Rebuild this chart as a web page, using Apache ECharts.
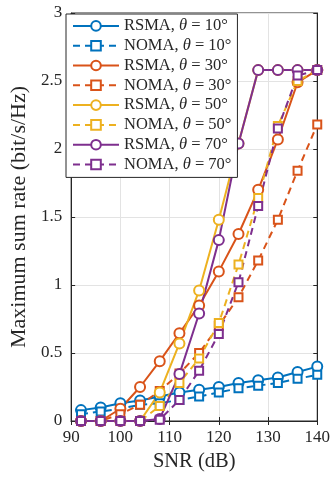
<!DOCTYPE html>
<html>
<head>
<meta charset="utf-8">
<script src="https://cdn.jsdelivr.net/npm/echarts@6/dist/echarts.min.js"></script>
<style>
html,body{margin:0;padding:0;background:#fff;}
#c{width:333px;height:480px;}
</style>
</head>
<body>
<div id="c"></div>
<script>
const snr = [92, 96, 100, 104, 108, 112, 116, 120, 124, 128, 132, 136, 140];
const rsma10 = [0.08, 0.10, 0.13, 0.15, 0.18, 0.21, 0.23, 0.25, 0.28, 0.30, 0.32, 0.36, 0.40];
const noma10 = [0.05, 0.07, 0.09, 0.12, 0.13, 0.155, 0.18, 0.21, 0.24, 0.26, 0.28, 0.31, 0.34];
const rsma30 = [0, 0, 0.09, 0.25, 0.44, 0.645, 0.85, 1.10, 1.375, 1.70, 2.07, 2.49, 2.58];
const noma30 = [0, 0, 0.05, 0.12, 0.22, 0.35, 0.50, 0.70, 0.91, 1.18, 1.48, 1.84, 2.18];
const rsma50 = [0, 0, 0, 0, 0.21, 0.57, 0.96, 1.48, 2.04, 2.58, 2.58, 2.58, 2.58];
const noma50 = [0, 0, 0, 0, 0.11, 0.28, 0.46, 0.72, 1.15, 1.64, 2.17, 2.50, 2.58];
const rsma70 = [0, 0, 0, 0, 0.015, 0.345, 0.79, 1.33, 2.04, 2.58, 2.58, 2.58, 2.58];
const noma70 = [0, 0, 0, 0, 0.01, 0.155, 0.37, 0.64, 1.02, 1.58, 2.15, 2.54, 2.58];
const seriesNames = ['RSMA, θ = 10°', 'NOMA, θ = 10°', 'RSMA, θ = 30°', 'NOMA, θ = 30°',
                     'RSMA, θ = 50°', 'NOMA, θ = 50°', 'RSMA, θ = 70°', 'NOMA, θ = 70°'];
const seriesValues = [rsma10, noma10, rsma30, noma30, rsma50, noma50, rsma70, noma70];
const xTicks = [90, 100, 110, 120, 130, 140];
const yTicks = [0, 0.5, 1, 1.5, 2, 2.5, 3];

const colors = ['#0072BD', '#0072BD', '#D95319', '#D95319', '#EDB120', '#EDB120', '#7E2F8E', '#7E2F8E'];
const FONT = "'Liberation Serif', 'DejaVu Serif', serif";
const TXT = '#262626';

const series = seriesNames.map((name, i) => {
  const dashed = name.startsWith('NOMA');
  return {
    name: name,
    type: 'line',
    data: snr.map((x, k) => [x, seriesValues[i][k]]),
    symbol: dashed ? 'emptyRect' : 'emptyCircle',
    symbolSize: dashed ? 8 : 10,
    showAllSymbol: true,
    clip: false,
    color: colors[i],
    lineStyle: { width: 2, color: colors[i], type: dashed ? [7, 5] : 'solid' },
    itemStyle: { color: colors[i], borderColor: colors[i], borderWidth: 1.8 },
    emphasis: { disabled: true },
    animation: false
  };
});

const chart = echarts.init(document.getElementById('c'), null, { renderer: 'canvas' });
chart.setOption({
  backgroundColor: '#fff',
  animation: false,
  textStyle: { fontFamily: FONT },
  grid: { left: 65, right: 15, top: 13, bottom: 59, show: true, borderColor: TXT, borderWidth: 1, backgroundColor: '#fff' },
  legend: {
    orient: 'vertical',
    left: 66, top: 14,
    padding: [2, 6, 3, 6],
    itemGap: 0,
    itemWidth: 46,
    itemHeight: 12,
    backgroundColor: '#fff',
    borderColor: TXT,
    borderWidth: 1,
    borderRadius: 0,
    data: seriesNames,
    formatter: function (name) {
      const parts = name.split('θ');
      return '{n|' + parts[0] + '}{i|θ}{n|' + parts[1] + '}';
    },
    textStyle: {
      fontFamily: FONT, fontSize: 16.5, color: TXT, lineHeight: 19.8,
      rich: {
        n: { fontFamily: FONT, fontSize: 16.5, color: TXT, lineHeight: 19.8 },
        i: { fontFamily: FONT, fontSize: 16.5, color: TXT, fontStyle: 'italic', lineHeight: 19.8 }
      }
    }
  },
  xAxis: [{
    type: 'value', min: xTicks[0], max: xTicks[xTicks.length - 1], interval: 10,
    name: 'SNR (dB)', nameLocation: 'middle', nameGap: 29,
    nameTextStyle: { fontFamily: FONT, fontSize: 20.5, color: TXT },
    axisLine: { show: true, lineStyle: { color: TXT, width: 1 } },
    axisTick: { show: true, inside: true, length: 4, lineStyle: { color: TXT } },
    axisLabel: { fontFamily: FONT, fontSize: 17, color: TXT, margin: 8 },
    splitLine: { show: true, lineStyle: { color: '#e3e3e3', width: 1 } }
  }, {
    type: 'value', position: 'top', min: xTicks[0], max: xTicks[xTicks.length - 1], interval: 10,
    axisLine: { show: true, lineStyle: { color: TXT } },
    axisTick: { show: true, inside: true, length: 4, lineStyle: { color: TXT } },
    axisLabel: { show: false }, splitLine: { show: false }
  }],
  yAxis: [{
    type: 'value', min: yTicks[0], max: yTicks[yTicks.length - 1], interval: 0.5,
    name: 'Maximum sum rate (bit/s/Hz)', nameLocation: 'middle', nameGap: 37,
    nameTextStyle: { fontFamily: FONT, fontSize: 22, color: TXT },
    axisLine: { show: true, lineStyle: { color: TXT, width: 1 } },
    axisTick: { show: true, inside: true, length: 4, lineStyle: { color: TXT } },
    axisLabel: { fontFamily: FONT, fontSize: 17, color: TXT, margin: 9, formatter: v => String(v) },
    splitLine: { show: true, lineStyle: { color: '#e3e3e3', width: 1 } }
  }, {
    type: 'value', position: 'right', min: yTicks[0], max: yTicks[yTicks.length - 1], interval: 0.5,
    axisLine: { show: true, lineStyle: { color: TXT } },
    axisTick: { show: true, inside: true, length: 4, lineStyle: { color: TXT } },
    axisLabel: { show: false }, splitLine: { show: false }
  }],
  series: series
});
</script>
</body>
</html>
